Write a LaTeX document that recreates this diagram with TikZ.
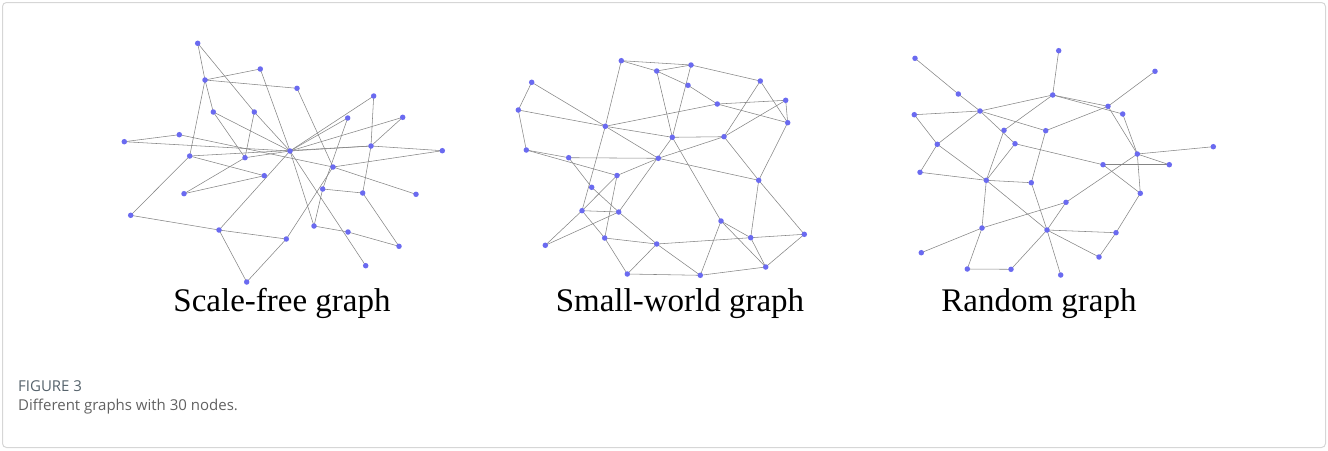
\documentclass[tikz,border=0pt]{standalone}
\usepackage{fontspec}
\setmainfont{Liberation Serif}
\newfontfamily\capfont{Open Sans}
\usetikzlibrary{backgrounds}
\definecolor{dotblue}{HTML}{6A6AF0}
\definecolor{edgegray}{HTML}{858585}
\definecolor{capgray}{HTML}{56636C}
\definecolor{framegray}{HTML}{D6D6D6}

\begin{document}
\begin{tikzpicture}[x=1pt, y=-1pt,
    vertex/.style={circle, fill=dotblue, inner sep=0pt, minimum size=5.5pt},
    link/.style={draw=edgegray, line width=0.55pt},
    title/.style={anchor=base, font=\fontsize{33}{38}\selectfont},
    caption/.style={anchor=base west, inner sep=0pt, font=\capfont\fontsize{15}{18}\selectfont, text=capgray}
]
    \useasboundingbox (0,0) rectangle (1328,450);
    \draw[framegray, line width=1pt, rounded corners=4pt] (2.5,2.5) rectangle (1325.5,447.5);

    % scale-free graph
    \foreach \n/\x/\y in {1/197.7/43.3, 2/260.3/69, 3/205/80, 4/297/88.3, 5/373.7/96,
        6/213.3/112, 7/254.3/112, 8/347.7/118, 9/402.7/117.3, 10/124.3/141.7,
        11/179.3/134.7, 12/290/151, 13/371/146, 14/442.3/150.7, 15/189.7/156,
        16/245/157.7, 17/333/167, 18/264.3/175.7, 19/184/193.7, 20/322.7/189,
        21/362.7/193, 22/416/194.3, 23/130.7/215.3, 24/219/230, 25/314/226,
        26/348/232, 27/286.3/239, 28/399/246.3, 29/365.7/265.7, 30/246.7/282}
        \node[vertex] (sf\n) at (\x,\y) {};

    % small-world graph
    \foreach \n/\x/\y in {1/621.3/60.7, 2/691/65, 3/656.7/71, 4/531.7/82.3, 5/760.3/81,
        6/688/85.3, 7/518.3/110, 8/717.3/104, 9/785.7/100.3, 10/787.7/122.7,
        11/605.3/126.3, 12/672.3/137.3, 13/724/136.7, 14/526.3/150, 15/568.7/157.7,
        16/658.3/158.3, 17/617/175.5, 18/758.7/180.3, 19/591.7/187.3, 20/582/210.7,
        21/618.7/212, 22/721/221, 23/804.3/234.3, 24/604.7/238, 25/750.7/237.7,
        26/545.3/245.3, 27/656.7/244, 28/765.7/267, 29/627.3/274, 30/700.3/275.3}
        \node[vertex] (sw\n) at (\x,\y) {};

    % random graph
    \foreach \n/\x/\y in {1/915/58.3, 2/1058.7/50.7, 3/1155/71.3, 4/958.3/94, 5/1052.7/95,
        6/1108/106.3, 7/1122.7/114, 8/914.3/114.7, 9/980/111, 10/1004/130.3,
        11/1045.7/130.7, 12/1015/143.7, 13/937.3/144.3, 14/1213.3/146.7, 15/1137.3/154,
        16/1103/164.7, 17/1169.3/164.7, 18/920/172.3, 19/986.3/180.3, 20/1031.3/182.7,
        21/1140.3/193.3, 22/1066/202.3, 23/982/228, 24/1047/230, 25/1116/232.7,
        26/921.3/252.7, 27/1099/257, 28/967.3/269, 29/1011/269.3, 30/1060.7/275}
        \node[vertex] (rg\n) at (\x,\y) {};

    % edges behind the dots
    \begin{scope}[on background layer]
        \foreach \a/\b in {1/3, 1/7, 7/12, 3/2, 3/4, 3/6, 3/15, 2/12, 4/17, 6/12, 6/16,
            7/16, 10/11, 10/12, 11/17, 15/23, 15/18, 15/13, 23/24, 24/12, 24/30, 24/27,
            30/27, 19/16, 19/18, 16/12, 12/5, 12/8, 12/9, 12/13, 13/14, 5/13, 9/13,
            13/21, 8/20, 20/25, 20/21, 12/25, 12/29, 17/22, 17/14, 27/17, 25/26,
            26/28, 21/28}
            \draw[link] (sf\a.center) -- (sf\b.center);
        \foreach \a/\b in {1/2, 1/3, 3/2, 2/5, 3/6, 6/8, 2/12, 3/12, 1/11, 11/20, 15/19,
            19/21, 21/27, 20/21, 20/24, 20/26, 20/17, 26/21, 17/24, 21/12, 24/27, 24/29,
            29/27, 29/30, 27/30, 30/22, 27/25, 25/23, 22/25, 22/28, 25/28, 30/28, 23/28,
            18/25, 18/23, 12/22, 17/16, 16/18, 11/12, 11/16, 11/4, 11/7, 11/8, 8/9, 4/7,
            7/14, 14/15, 14/17, 15/16, 12/13, 13/9, 13/5, 13/18, 16/13, 5/10, 9/10,
            8/10, 10/18}
            \draw[link] (sw\a.center) -- (sw\b.center);
        \foreach \a/\b in {1/4, 4/9, 9/8, 9/5, 9/13, 9/11, 9/12, 8/13, 13/18, 13/19,
            19/24, 18/19, 19/20, 19/23, 10/19, 10/5, 12/19, 12/16, 2/5, 5/6, 5/7, 3/6,
            6/15, 7/15, 11/6, 11/20, 16/17, 15/17, 15/14, 15/21, 16/21, 15/22, 22/23,
            23/26, 22/24, 24/25, 24/27, 25/21, 25/27, 24/29, 24/30, 23/28, 28/29, 20/24}
            \draw[link] (rg\a.center) -- (rg\b.center);
    \end{scope}

    % titles
    \node[title] (sftitle) at (282,311) {Scale-free graph};
    \node[title] (swtitle) at (680,311) {Small-world graph};
    \node[title] (rgtitle) at (1039,311) {Random graph};

    % caption
    \node[caption] (fignum) at (18,391) {FIGURE 3};
    \node[caption, text=black!62] (figtext) at (18,410) {Different graphs with 30 nodes.};
\end{tikzpicture}
\end{document}
